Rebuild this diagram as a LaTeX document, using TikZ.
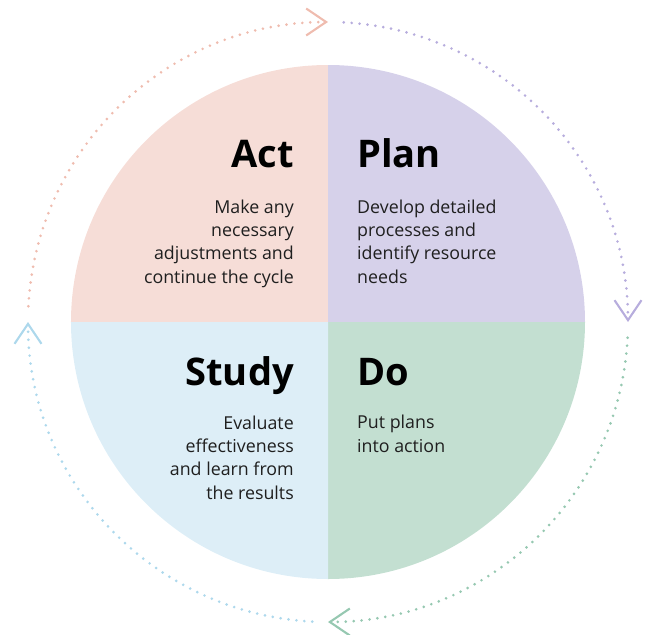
\documentclass[tikz,border=0pt]{standalone}
\usepackage{fontspec}
\setmainfont{Open Sans}
\usetikzlibrary{arrows.meta}

% quadrant fills and the matching dotted ring colours
\definecolor{actfill}{HTML}{F6DDD7}
\definecolor{actline}{HTML}{EFBCAF}
\definecolor{planfill}{HTML}{D6D1EA}
\definecolor{planline}{HTML}{B7ADDD}
\definecolor{dofill}{HTML}{C3DFD1}
\definecolor{doline}{HTML}{96C8B1}
\definecolor{studyfill}{HTML}{DDEEF7}
\definecolor{studyline}{HTML}{ADD8EC}

\tikzset{
  cycle arc/.style={line width=2.5pt, line cap=round, dash pattern=on 0pt off 6.8pt,
    -{Straight Barb[length=17pt,width=23pt,line width=1.8pt]}},
  phase title/.style={font=\fontsize{32.5}{38}\selectfont\bfseries, inner sep=0pt},
  phase text/.style={font=\fontsize{15.2}{19.9}\selectfont, inner sep=0pt, text=black!88}
}

\begin{document}
\begin{tikzpicture}[x=0.03cm, y=0.03cm]
        \useasboundingbox (-328,-312) rectangle (318,322);

        %quadrants
        \fill[actfill] (0,0) -- (180:257) arc[start angle=180, end angle=90, radius=257] -- cycle;
        \fill[planfill] (0,0) -- (90:257) arc[start angle=90, end angle=0, radius=257] -- cycle;
        \fill[dofill] (0,0) -- (0:257) arc[start angle=0, end angle=-90, radius=257] -- cycle;
        \fill[studyfill] (0,0) -- (-90:257) arc[start angle=-90, end angle=-180, radius=257] -- cycle;

        %dotted ring, clockwise
        \draw[cycle arc, actline] (177:300) arc[start angle=177, end angle=90, radius=300];
        \draw[cycle arc, planline] (87:300) arc[start angle=87, end angle=0, radius=300];
        \draw[cycle arc, doline] (-3:300) arc[start angle=-3, end angle=-90, radius=300];
        \draw[cycle arc, studyline] (-93:300) arc[start angle=-93, end angle=-180, radius=300];

        %titles
        \node[phase title, anchor=base east] (act) at (-34,155) {Act};
        \node[phase title, anchor=base west] (plan) at (29,155) {Plan};
        \node[phase title, anchor=base east] (study) at (-34,-63) {Study};
        \node[phase title, anchor=base west] (do) at (29,-63) {Do};

        %descriptions (base = last line)
        \node[phase text, align=right, anchor=base east] (act text) at (-34,39)
         {Make any\\necessary\\adjustments and\\continue the cycle};
        \node[phase text, align=left, anchor=base west] (plan text) at (29,39)
         {Develop detailed\\processes and\\identify resource\\needs};
        \node[phase text, align=right, anchor=base east] (study text) at (-34,-177)
         {Evaluate\\effectiveness\\and learn from\\the results};
        \node[phase text, align=left, anchor=base west] (do text) at (29,-130)
         {Put plans\\into action};
\end{tikzpicture}
\end{document}
